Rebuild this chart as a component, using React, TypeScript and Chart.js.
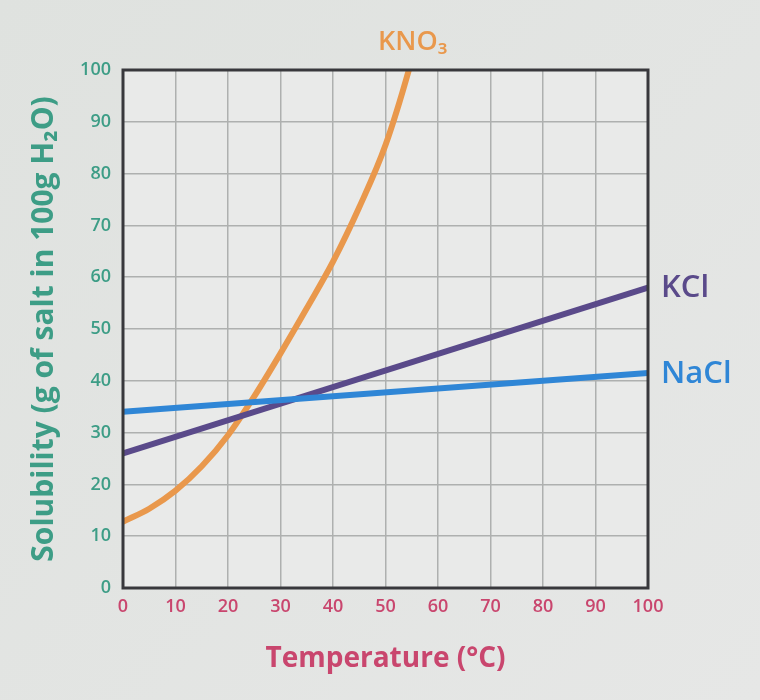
import React, { useEffect, useRef } from "react";
import { Chart, registerables } from "chart.js";

Chart.register(...registerables);

const temps = [0, 5, 10, 15, 20, 25, 30, 35, 40, 45, 50, 55, 60];
const kno3 = [12.8, 15.3, 18.8, 23.5, 29.5, 37, 45.3, 54, 63, 73.5, 85.5, 102, 122];
const kclTemps = [0, 100];
const kcl = [26, 58];
const naclTemps = [0, 100];
const nacl = [34, 41.5];
const xTicks = [0, 10, 20, 30, 40, 50, 60, 70, 80, 90, 100];
const yTicks = [0, 10, 20, 30, 40, 50, 60, 70, 80, 90, 100];

const FONT = "'Open Sans', 'Noto Sans', sans-serif";
const ORANGE = "#e9984c";
const PURPLE = "#5a4a8a";
const BLUE = "#2f86d6";
const TEAL = "#3d9d86";
const PINK = "#c9466e";

const labelPlugin = {
  id: "labels",
  beforeDraw(chart: any) {
    const { ctx, chartArea: a, width, height } = chart;
    ctx.save();
    const g = ctx.createLinearGradient(0, 0, width, height);
    g.addColorStop(0, "#dfe2df");
    g.addColorStop(1, "#e6e7e6");
    ctx.fillStyle = g;
    ctx.fillRect(0, 0, width, height);
    ctx.fillStyle = "#e9eae9";
    ctx.fillRect(a.left, a.top, a.right - a.left, a.bottom - a.top);
    ctx.restore();
  },
  afterDraw(chart: any) {
    const { ctx, chartArea: a } = chart;
    ctx.save();
    ctx.strokeStyle = "#38383c";
    ctx.lineWidth = 3;
    ctx.strokeRect(a.left, a.top, a.right - a.left, a.bottom - a.top);
    ctx.textBaseline = "middle";
    ctx.textAlign = "left";
    ctx.font = `600 27px ${FONT}`;
    ctx.fillStyle = ORANGE;
    ctx.fillText("KNO₃", 378, 42);
    ctx.fillStyle = PURPLE;
    ctx.font = `600 31px ${FONT}`;
    ctx.fillText("KCl", 661, 288);
    ctx.fillStyle = BLUE;
    ctx.fillText("NaCl", 661, 374);
    ctx.restore();
  },
};

export default function App() {
  const ref = useRef<HTMLCanvasElement>(null);
  useEffect(() => {
    const chart = new Chart(ref.current!, {
      type: "line",
      data: {
        datasets: [
          {
            label: "NaCl",
            data: naclTemps.map((t, i) => ({ x: t, y: nacl[i] })),
            borderColor: BLUE,
            borderWidth: 6,
            pointRadius: 0,
          },
          {
            label: "KCl",
            data: kclTemps.map((t, i) => ({ x: t, y: kcl[i] })),
            borderColor: PURPLE,
            borderWidth: 6,
            pointRadius: 0,
          },
          {
            label: "KNO₃",
            data: temps.map((t, i) => ({ x: t, y: kno3[i] })),
            borderColor: ORANGE,
            borderWidth: 6,
            pointRadius: 0,
            cubicInterpolationMode: "monotone",
          },
        ],
      },
      options: {
        animation: false,
        responsive: false,
        layout: { padding: { top: 70, right: 112, left: 0, bottom: 0 } },
        plugins: { legend: { display: false }, tooltip: { enabled: false } },
        scales: {
          x: {
            type: "linear",
            min: 0,
            max: 100,
            afterBuildTicks: (s: any) => {
              s.ticks = xTicks.map((v) => ({ value: v }));
            },
            afterFit: (s: any) => {
              s.height = 112;
            },
            grid: { color: "#aeb0af", lineWidth: 1.5, drawTicks: false },
            border: { display: false },
            ticks: {
              color: PINK,
              padding: 8,
              font: { family: FONT, size: 18, weight: "600" },
              maxRotation: 0,
            },
            title: {
              display: true,
              text: "Temperature (°C)",
              color: PINK,
              font: { family: FONT, size: 28, weight: "bold" },
              padding: { top: 0, bottom: 24 },
            },
          },
          y: {
            type: "linear",
            min: 0,
            max: 100,
            afterBuildTicks: (s: any) => {
              s.ticks = yTicks.map((v) => ({ value: v }));
            },
            afterFit: (s: any) => {
              s.width = 123;
            },
            grid: { color: "#aeb0af", lineWidth: 1.5, drawTicks: false },
            border: { display: false },
            ticks: {
              color: TEAL,
              padding: 12,
              font: { family: FONT, size: 18, weight: "600" },
            },
            title: {
              display: true,
              text: "Solubility (g of salt in 100g H₂O)",
              color: TEAL,
              font: { family: FONT, size: 30, weight: "bold" },
              padding: { top: 26, bottom: 0 },
            },
          },
        },
      },
      plugins: [labelPlugin],
    } as any);
    return () => chart.destroy();
  }, []);
  return (
    <div style={{ position: "fixed", left: 0, top: 0, width: 760, height: 700 }}>
      <canvas ref={ref} width={760} height={700} />
    </div>
  );
}
